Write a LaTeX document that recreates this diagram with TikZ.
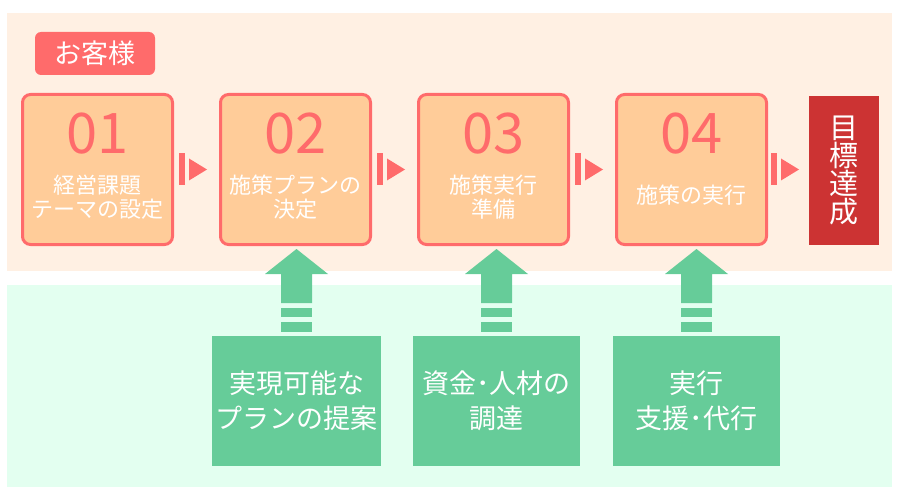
\documentclass[tikz,border=0pt]{standalone}
\usepackage{fontspec}
\setmainfont{Noto Sans CJK JP}
\usetikzlibrary{positioning,calc}

\definecolor{bandpeach}{HTML}{FFF0E3}
\definecolor{bandmint}{HTML}{E3FFF0}
\definecolor{stepred}{HTML}{FF6B6B}
\definecolor{steppeach}{HTML}{FFCC99}
\definecolor{goalred}{HTML}{CC3333}
\definecolor{helpgreen}{HTML}{66CC99}

\tikzset{
  stepbox/.style={draw=stepred, fill=steppeach, line width=3pt, rounded corners=8pt,
    minimum width=150pt, minimum height=150pt},
  numtext/.style={text=stepred, font=\fontsize{56}{56}\selectfont, inner sep=0pt},
  desctext/.style={text=white, align=center, font=\fontsize{22}{24}\selectfont, inner sep=0pt},
  helpbox/.style={fill=helpgreen, text=white, align=center, minimum width=167pt,
    minimum height=130pt, font=\fontsize{27}{35}\selectfont},
  goalbox/.style={fill=goalred, text=white, align=center, minimum width=70pt,
    minimum height=149pt, font=\fontsize{29}{28}\selectfont}
}

\begin{document}
\begin{tikzpicture}[x=1pt,y=-1pt]
\useasboundingbox (0,0) rectangle (900,500);
% bands
\fill[bandpeach] (7,13) rectangle (892,271);
\fill[bandmint] (7,285) rectangle (892,487);
\node[fill=stepred, text=white, rounded corners=6pt, minimum width=120pt, minimum height=43pt,
  font=\fontsize{27}{27}\selectfont] (client) at (95,53.5) {お客様};

% steps
\node[stepbox] (s1) at (97.5,169.5) {};
\node[stepbox, right=45pt of s1] (s2) {};
\node[stepbox, right=45pt of s2] (s3) {};
\node[stepbox, right=45pt of s3] (s4) {};
\node[goalbox, right=41pt of s4, yshift=-1pt] (goal) {目\\標\\達\\成};

\node[numtext] (n1) at ([yshift=-40.5pt]s1.north) {01};
\node[numtext] (n2) at ([yshift=-40.5pt]s2.north) {02};
\node[numtext] (n3) at ([yshift=-40.5pt]s3.north) {03};
\node[numtext] (n4) at ([yshift=-40.5pt]s4.north) {04};
\node[desctext] (d1) at ([yshift=-104.5pt]s1.north) {経営課題\\テーマの設定};
\node[desctext] (d2) at ([yshift=-104.5pt]s2.north) {施策プランの\\決定};
\node[desctext] (d3) at ([yshift=-104.5pt]s3.north) {施策実行\\準備};
\node[desctext] (d4) at ([yshift=-102pt]s4.north) {施策の実行};

% chevrons between steps
\foreach \a/\b in {s1/s2,s2/s3,s3/s4,s4/goal}{
  \coordinate (m) at ($(\a.east)!0.5!(\b.west)$);
  \fill[stepred] ([xshift=-17.5pt,yshift=-16pt]m |- s1.center) rectangle ([xshift=-11.5pt,yshift=16pt]m |- s1.center);
  \fill[stepred] ([xshift=-7.5pt,yshift=-11pt]m |- s1.center) -- ([xshift=10.5pt]m |- s1.center)
    -- ([xshift=-7.5pt,yshift=11pt]m |- s1.center) -- cycle;
}

% support boxes
\node[helpbox, below=90pt of s2, xshift=1pt] (g1) {実現可能な\\プランの提案};
\node[helpbox, below=90pt of s3, xshift=3pt] (g2) {資金･人材の\\調達};
\node[helpbox, below=90pt of s4, xshift=5pt] (g3) {実行\\支援･代行};

% arrows up into the steps
\foreach \g/\s in {g1/s2,g2/s3,g3/s4}{
  \coordinate (tip) at (\g.north |- \s.south);
  \fill[helpgreen] ([xshift=-15.5pt,yshift=4pt]\g.north) rectangle ([xshift=15.5pt,yshift=14pt]\g.north);
  \fill[helpgreen] ([xshift=-15.5pt,yshift=19pt]\g.north) rectangle ([xshift=15.5pt,yshift=28pt]\g.north);
  \fill[helpgreen] ([xshift=-15.5pt,yshift=33pt]\g.north) -- ([xshift=-15.5pt,yshift=62pt]\g.north)
    -- ([xshift=-31.5pt,yshift=62pt]\g.north) -- ([yshift=-3pt]tip)
    -- ([xshift=31.5pt,yshift=62pt]\g.north) -- ([xshift=15.5pt,yshift=62pt]\g.north)
    -- ([xshift=15.5pt,yshift=33pt]\g.north) -- cycle;
}
\end{tikzpicture}
\end{document}
